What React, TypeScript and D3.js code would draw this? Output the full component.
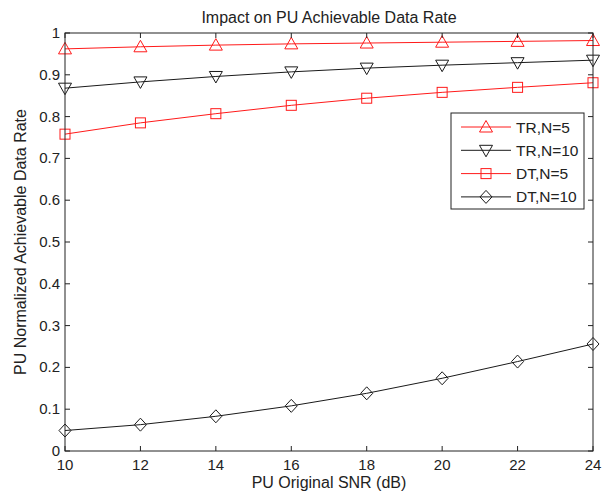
import React from 'react';
import * as d3 from 'd3';

const snr = [10, 12, 14, 16, 18, 20, 22, 24];
const trN5 = [0.962, 0.967, 0.971, 0.974, 0.976, 0.978, 0.98, 0.982];
const trN10 = [0.868, 0.883, 0.896, 0.907, 0.916, 0.923, 0.929, 0.935];
const dtN5 = [0.758, 0.785, 0.807, 0.827, 0.844, 0.858, 0.87, 0.881];
const dtN10 = [0.049, 0.063, 0.083, 0.108, 0.138, 0.174, 0.214, 0.256];
const xTicks = [10, 12, 14, 16, 18, 20, 22, 24];
const yTicks = [0, 0.1, 0.2, 0.3, 0.4, 0.5, 0.6, 0.7, 0.8, 0.9, 1];

const RED = '#ff1a1a';
const series = [
  { name: 'TR,N=5', values: trN5, color: RED, marker: 'up' },
  { name: 'TR,N=10', values: trN10, color: '#1a1a1a', marker: 'down' },
  { name: 'DT,N=5', values: dtN5, color: RED, marker: 'square' },
  { name: 'DT,N=10', values: dtN10, color: '#1a1a1a', marker: 'diamond' },
];

const W = 605;
const H = 495;
const m = { left: 65, right: 593, top: 33, bottom: 451 };
const font = '"Liberation Sans", Arial, Helvetica, sans-serif';

const Marker = ({ type, x, y, color }: { type: string; x: number; y: number; color: string }) => {
  const p = { fill: 'none', stroke: color, strokeWidth: 1 };
  if (type === 'up') {
    return <path d={`M${x},${y - 6.5}L${x + 6.5},${y + 5}L${x - 6.5},${y + 5}Z`} {...p} />;
  }
  if (type === 'down') {
    return <path d={`M${x},${y + 6.5}L${x + 6.5},${y - 5}L${x - 6.5},${y - 5}Z`} {...p} />;
  }
  if (type === 'square') {
    return <rect x={x - 5} y={y - 5} width={10} height={10} {...p} />;
  }
  return <path d={`M${x},${y - 6.5}L${x + 6},${y}L${x},${y + 6.5}L${x - 6},${y}Z`} {...p} />;
};

export default function App() {
  const x = d3.scaleLinear().domain([10, 24]).range([m.left, m.right]);
  const y = d3.scaleLinear().domain([0, 1]).range([m.bottom, m.top]);
  const line = d3
    .line<number>()
    .x((_, i) => x(snr[i]))
    .y((d) => y(d));

  const legX = 451;
  const legY = 113;
  const legW = 133;
  const legH = 96;
  const rowH = 23.3;

  return (
    <svg width={W} height={H} style={{ position: 'absolute', left: 0, top: 0 }} fontFamily={font}>
      <rect x={0} y={0} width={W} height={H} fill="#fff" />
      <rect x={m.left} y={m.top} width={m.right - m.left} height={m.bottom - m.top} fill="#fff" />

      {series.map((s) => (
        <g key={s.name}>
          <path d={line(s.values) || ''} fill="none" stroke={s.color} strokeWidth={1} />
          {s.values.map((v, i) => (
            <Marker key={i} type={s.marker} x={x(snr[i])} y={y(v)} color={s.color} />
          ))}
        </g>
      ))}

      {/* axes box with inward ticks */}
      <rect x={m.left} y={m.top} width={m.right - m.left} height={m.bottom - m.top} fill="none" stroke="#222" strokeWidth={1} />
      {xTicks.map((t) => (
        <g key={'x' + t}>
          <line x1={x(t)} x2={x(t)} y1={m.bottom} y2={m.bottom - 5} stroke="#222" />
          <line x1={x(t)} x2={x(t)} y1={m.top} y2={m.top + 5} stroke="#222" />
          <text x={x(t)} y={m.bottom + 19} textAnchor="middle" fontSize={15} fill="#222">
            {t}
          </text>
        </g>
      ))}
      {yTicks.map((t) => (
        <g key={'y' + t}>
          <line x1={m.left} x2={m.left + 5} y1={y(t)} y2={y(t)} stroke="#222" />
          <line x1={m.right} x2={m.right - 5} y1={y(t)} y2={y(t)} stroke="#222" />
          <text x={m.left - 5} y={y(t) + 5} textAnchor="end" fontSize={15} fill="#222">
            {d3.format('~g')(t)}
          </text>
        </g>
      ))}

      <text x={(m.left + m.right) / 2} y={23} textAnchor="middle" fontSize={16} fill="#222">
        Impact on PU Achievable Data Rate
      </text>
      <text x={(m.left + m.right) / 2} y={488} textAnchor="middle" fontSize={16} fill="#222">
        PU Original SNR (dB)
      </text>
      <text
        transform={`translate(26,${(m.top + m.bottom) / 2}) rotate(-90)`}
        textAnchor="middle"
        fontSize={16}
        fill="#222"
      >
        PU Normalized Achievable Data Rate
      </text>

      {/* legend */}
      <rect x={legX} y={legY} width={legW} height={legH} fill="#fff" stroke="#222" strokeWidth={1} />
      {series.map((s, i) => {
        const ry = legY + 14 + i * rowH;
        return (
          <g key={'leg' + s.name}>
            <line x1={461} x2={511} y1={ry} y2={ry} stroke={s.color} strokeWidth={1} />
            <Marker type={s.marker} x={486} y={ry} color={s.color} />
            <text x={516} y={ry + 5.5} fontSize={15.5} fill="#222">
              {s.name}
            </text>
          </g>
        );
      })}
    </svg>
  );
}
